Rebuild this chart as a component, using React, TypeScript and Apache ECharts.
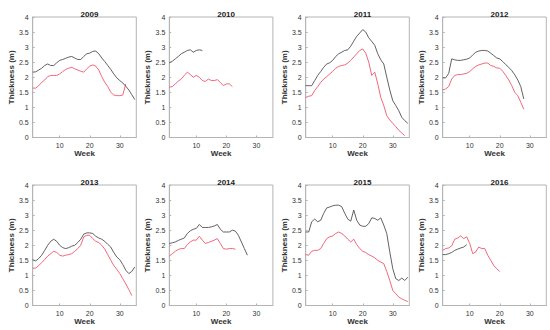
import React, { useEffect, useRef } from "react";
import * as echarts from "echarts";

// Weekly values (week 1, 2, 3, ...)
const years = ["2009", "2010", "2011", "2012", "2013", "2014", "2015", "2016"];

const black2009 = [2.17, 2.18, 2.24, 2.3, 2.39, 2.44, 2.39, 2.39, 2.48, 2.56, 2.59, 2.63, 2.67, 2.69, 2.64, 2.59, 2.59, 2.69, 2.78, 2.8, 2.86, 2.87, 2.78, 2.64, 2.52, 2.39, 2.26, 2.11, 1.98, 1.89, 1.81, 1.7, 1.58, 1.42, 1.26];
const red2009 = [1.64, 1.64, 1.72, 1.83, 1.91, 2.02, 2.06, 2.06, 2.06, 2.11, 2.19, 2.26, 2.3, 2.33, 2.28, 2.24, 2.2, 2.17, 2.28, 2.37, 2.41, 2.37, 2.24, 2.02, 1.83, 1.69, 1.5, 1.41, 1.39, 1.39, 1.41, 1.78];

const black2010 = [2.48, 2.53, 2.61, 2.69, 2.78, 2.83, 2.89, 2.91, 2.83, 2.89, 2.91, 2.89];
const red2010 = [1.67, 1.69, 1.78, 1.87, 1.94, 2.06, 2.17, 2.09, 2.0, 2.06, 2.0, 1.89, 1.86, 1.94, 1.89, 1.89, 1.92, 1.83, 1.72, 1.78, 1.78, 1.69];

const black2011 = [1.72, 1.72, 1.72, 1.89, 2.06, 2.19, 2.33, 2.44, 2.48, 2.56, 2.69, 2.78, 2.83, 2.89, 2.91, 3.03, 3.2, 3.36, 3.47, 3.58, 3.5, 3.31, 3.19, 3.06, 2.78, 2.58, 2.44, 2.0, 1.58, 1.22, 1.06, 0.89, 0.67, 0.56, 0.47];
const red2011 = [1.33, 1.37, 1.39, 1.56, 1.69, 1.83, 1.94, 2.02, 2.11, 2.2, 2.3, 2.36, 2.39, 2.41, 2.47, 2.56, 2.67, 2.78, 2.89, 2.94, 2.8, 2.5, 2.06, 2.17, 1.78, 1.33, 1.06, 0.72, 0.58, 0.47, 0.36, 0.24, 0.15, 0.06];

const black2012 = [1.98, 1.98, 2.13, 2.61, 2.58, 2.56, 2.56, 2.58, 2.6, 2.64, 2.74, 2.83, 2.87, 2.89, 2.89, 2.87, 2.8, 2.72, 2.64, 2.61, 2.52, 2.42, 2.33, 2.22, 2.08, 1.91, 1.69, 1.28];
const red2012 = [1.58, 1.61, 1.69, 1.94, 2.06, 2.09, 2.09, 2.11, 2.13, 2.19, 2.28, 2.36, 2.41, 2.44, 2.47, 2.47, 2.39, 2.36, 2.31, 2.3, 2.2, 2.06, 1.91, 1.72, 1.5, 1.39, 1.17, 0.94];

const black2013 = [1.52, 1.48, 1.56, 1.67, 1.83, 2.0, 2.13, 2.2, 2.13, 2.0, 1.92, 1.89, 1.92, 1.97, 2.0, 2.09, 2.2, 2.37, 2.41, 2.41, 2.39, 2.3, 2.24, 2.2, 2.13, 2.03, 1.94, 1.76, 1.61, 1.52, 1.36, 1.17, 1.06, 1.13, 1.28];
const red2013 = [1.24, 1.24, 1.33, 1.42, 1.53, 1.64, 1.72, 1.8, 1.76, 1.67, 1.64, 1.67, 1.69, 1.72, 1.8, 1.89, 2.0, 2.28, 2.33, 2.33, 2.22, 2.13, 2.09, 2.0, 1.87, 1.69, 1.5, 1.33, 1.2, 1.06, 0.89, 0.72, 0.53, 0.33];

const black2014 = [2.06, 2.08, 2.11, 2.16, 2.2, 2.24, 2.39, 2.48, 2.53, 2.56, 2.69, 2.59, 2.59, 2.59, 2.61, 2.64, 2.69, 2.53, 2.44, 2.44, 2.44, 2.5, 2.47, 2.33, 2.11, 1.89, 1.67];
const red2014 = [1.64, 1.72, 1.8, 1.86, 1.89, 1.89, 2.02, 2.11, 2.17, 2.17, 2.3, 2.17, 2.06, 2.09, 2.13, 2.17, 2.22, 2.06, 1.89, 1.87, 1.89, 1.89, 1.87];

const black2015 = [2.44, 2.44, 2.78, 2.87, 2.78, 2.83, 3.06, 3.24, 3.27, 3.31, 3.33, 3.33, 3.28, 3.06, 2.87, 2.8, 3.17, 2.83, 2.67, 2.63, 2.63, 2.72, 2.91, 2.89, 2.83, 2.91, 2.67, 2.39, 1.78, 1.22, 0.89, 0.83, 0.91, 0.83, 0.94];
const red2015 = [1.69, 1.67, 1.8, 1.83, 1.83, 1.89, 2.06, 2.22, 2.28, 2.31, 2.39, 2.44, 2.39, 2.31, 2.2, 2.11, 2.2, 2.02, 1.89, 1.8, 1.76, 1.69, 1.64, 1.58, 1.5, 1.44, 1.39, 1.13, 0.83, 0.5, 0.39, 0.28, 0.22, 0.17, 0.13];

const black2016 = [1.69, 1.69, 1.72, 1.76, 1.83, 1.87, 1.91, 1.94, 2.02];
const red2016 = [1.83, 1.89, 1.91, 1.98, 2.2, 2.24, 2.31, 2.22, 2.28, 2.06, 1.72, 1.78, 1.94, 1.89, 1.89, 1.67, 1.5, 1.33, 1.22, 1.13];

const blackSeries = [black2009, black2010, black2011, black2012, black2013, black2014, black2015, black2016];
const redSeries = [red2009, red2010, red2011, red2012, red2013, red2014, red2015, red2016];

const weekTicks = [10, 20, 30];

const FONT = "Liberation Sans, Arial, sans-serif";

function toPoints(arr: number[]) {
  return arr.map((v, i) => [i + 1, v]);
}

export default function App() {
  const ref = useRef<HTMLDivElement>(null);

  useEffect(() => {
    if (!ref.current) return;
    const chart = echarts.init(ref.current, undefined, { renderer: "svg" });

    const lefts = [32.7, 169.3, 305.7, 442.7];
    const tops = [17, 185];
    const w = 103.6;
    const h = 120.5;

    const grids: any[] = [];
    const xAxes: any[] = [];
    const yAxes: any[] = [];
    const series: any[] = [];
    const titles: any[] = [];

    years.forEach((yr, i) => {
      const col = i % 4;
      const row = Math.floor(i / 4);
      grids.push({
        left: lefts[col],
        top: tops[row],
        width: w,
        height: h,
        show: true,
        borderColor: "#b4b4b4",
        borderWidth: 1,
        backgroundColor: "#fff",
      });
      titles.push({
        text: yr,
        left: lefts[col] + w / 2,
        top: tops[row] - 12,
        textAlign: "center",
        textStyle: { fontFamily: FONT, fontSize: 8, fontWeight: "bold", color: "#222" },
      });
      xAxes.push({
        type: "value",
        gridIndex: i,
        min: 1,
        max: 35.5,
        name: "Week",
        nameLocation: "middle",
        nameGap: 12,
        nameTextStyle: { fontFamily: FONT, fontSize: 8, fontWeight: "bold", color: "#333" },
        axisLine: { show: true, lineStyle: { color: "#b4b4b4", width: 1 } },
        axisTick: { show: true, inside: true, length: 2, customValues: weekTicks, lineStyle: { color: "#b4b4b4" } },
        axisLabel: { customValues: weekTicks, fontFamily: FONT, fontSize: 7, color: "#333", margin: 4 },
        splitLine: { show: false },
      });
      yAxes.push({
        type: "value",
        gridIndex: i,
        min: 0,
        max: 4,
        interval: 0.5,
        name: "Thickness (m)",
        nameLocation: "middle",
        nameGap: 16,
        nameTextStyle: { fontFamily: FONT, fontSize: 8, fontWeight: "bold", color: "#333" },
        axisLine: { show: true, lineStyle: { color: "#b4b4b4", width: 1 } },
        axisTick: { show: true, inside: true, length: 2, lineStyle: { color: "#b4b4b4" } },
        axisLabel: { fontFamily: FONT, fontSize: 7, color: "#333", margin: 4 },
        splitLine: { show: false },
      });
      series.push({
        type: "line",
        xAxisIndex: i,
        yAxisIndex: i,
        data: toPoints(blackSeries[i]),
        showSymbol: false,
        symbol: "none",
        lineStyle: { color: "#505050", width: 0.9 },
        z: 3,
      });
      series.push({
        type: "line",
        xAxisIndex: i,
        yAxisIndex: i,
        data: toPoints(redSeries[i]),
        showSymbol: false,
        symbol: "none",
        lineStyle: { color: "#f0566c", width: 0.9 },
        z: 2,
      });
    });

    chart.setOption({
      animation: false,
      backgroundColor: "#fff",
      title: titles,
      grid: grids,
      xAxis: xAxes,
      yAxis: yAxes,
      series,
    });

    return () => chart.dispose();
  }, []);

  return <div ref={ref} style={{ width: 550, height: 330, position: "absolute", left: 0, top: 0 }} />;
}
